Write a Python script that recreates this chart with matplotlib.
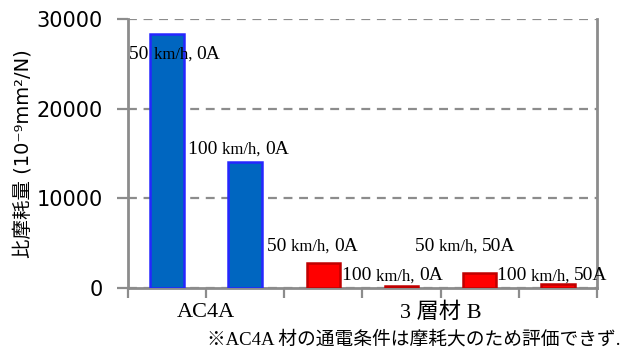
import numpy as np
import matplotlib.pyplot as plt
from matplotlib.transforms import offset_copy, blended_transform_factory

plt.rcParams['font.family'] = ['DejaVu Sans', 'Noto Sans CJK JP']

# specific wear rate for each test condition
speeds = ['50', '100', '50', '100', '50', '100']
currents = ['0A', '0A', '0A', '0A', '50A', '50A']
wear = [28400, 14100, 2800, 250, 1700, 400]
material = ['AC4A', 'AC4A', '3層材B', '3層材B', '3層材B', '3層材B']
group_labels = ['AC4A', '3 層材 B']
group_pos = [0.5, 3.5]
yticks = [0, 10000, 20000, 30000]

# where each condition label sits relative to its bar (category units, wear units)
label_dx = [-0.48, -0.73, -0.72, -0.76, -0.83, -0.78]
label_dy = [-2800, 900, 1300, 600, 2400, 450]

fig = plt.figure(figsize=(6.27, 3.54), dpi=100)
ax = fig.add_axes([0.204, 0.187, 0.748, 0.758])
renderer = fig.canvas.get_renderer()

x = np.arange(len(wear))
fills = ['#0066C0' if m == 'AC4A' else '#FF0000' for m in material]
edges = ['#2626FF' if m == 'AC4A' else '#C00000' for m in material]
ax.bar(x, wear, width=0.43, color=fills, edgecolor=edges, linewidth=1.8, zorder=3)

serif = ['Liberation Serif', 'Noto Sans CJK JP']


def mixed_label(xd, yd, parts):
    # draw text pieces of different sizes one after another on one baseline
    dx = 0
    for s, size in parts:
        tr = offset_copy(ax.transData, fig=fig, x=dx, y=0, units='dots')
        t = ax.text(xd, yd, s, fontsize=size, family=serif, transform=tr,
                    va='baseline', ha='left', zorder=4)
        dx += t.get_window_extent(renderer).width


for i in range(len(wear)):
    mixed_label(x[i] + label_dx[i], wear[i] + label_dy[i],
                [(speeds[i] + ' ', 14), ('km/h, ', 12), (currents[i], 14)])

ax.set_xlim(-0.5, len(wear) - 0.5)
ax.set_ylim(0, 30000)
ax.set_yticks(yticks)
ax.set_yticklabels([str(t) for t in yticks], fontsize=15)
ax.yaxis.grid(True, linestyle=(0, (4, 3)), color='#8c8c8c', linewidth=1.6)
ax.set_axisbelow(True)

# category boundaries as ticks
ax.set_xticks(np.arange(-0.5, len(wear), 1.0))
ax.set_xticklabels([])
ax.tick_params(axis='x', direction='out', length=7, width=1.6, color='#8c8c8c')
ax.tick_params(axis='y', direction='out', length=8, width=1.6, color='#8c8c8c', pad=10)

# group names under the axis
tr = blended_transform_factory(ax.transData, ax.transAxes)
for pos, name in zip(group_pos, group_labels):
    ax.text(pos, -0.093, name, transform=tr, fontsize=16, family=serif,
            ha='center', va='center')

for s in ['left', 'right', 'bottom']:
    ax.spines[s].set_color('#8c8c8c')
    ax.spines[s].set_linewidth(2)
ax.spines['top'].set_visible(False)

ax.set_ylabel('比摩耗量 (10⁻⁹mm²/N)', fontsize=14, labelpad=3)

fig.text(0.99, 0.04, '※AC4A 材の通電条件は摩耗大のため評価できず.', fontsize=13.5,
         family=serif, ha='right', va='center')

fig.savefig('out.png', dpi=100)
